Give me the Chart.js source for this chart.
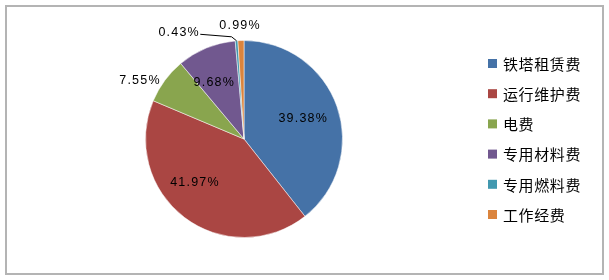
<!DOCTYPE html>
<html>
<head>
<meta charset="utf-8">
<script src="https://cdn.jsdelivr.net/npm/chart.js@4"></script>
<style>
  html, body { margin: 0; padding: 0; background: #fff; }
  #wrap { position: relative; width: 609px; height: 280px; }
  #frame { position: absolute; left: 5px; top: 5px; width: 595px; height: 266px; border: 2px solid #b4b4b4; box-sizing: content-box; }
  #c { position: absolute; left: 0; top: 0; }
</style>
</head>
<body>
<div id="wrap">
  <div id="frame"></div>
  <canvas id="c" width="609" height="280"></canvas>
</div>
<script>
const categories = ['铁塔租赁费', '运行维护费', '电费', '专用材料费', '专用燃料费', '工作经费'];
const values = [39.38, 41.97, 7.55, 9.68, 0.43, 0.99];
const valueLabels = ['39.38%', '41.97%', '7.55%', '9.68%', '0.43%', '0.99%'];

const colors = ['#4572A7', '#AA4643', '#89A54E', '#71588F', '#4198AF', '#DB843D'];
// label placement: radius factor of outer radius along slice mid-angle, plus pixel nudge
const labelPlace = [
  { r: 0.63, dx: 0, dy: 0 },
  { r: 0.663, dx: -10, dy: -8 },
  { r: 1.207, dx: -9, dy: 12 },
  { r: 0.644, dx: -6, dy: 2 },
  { r: 1.0, dx: -58, dy: -8, leader: true },
  { r: 1.157, dx: -1, dy: 0 }
];

const labelPlugin = {
  id: 'sliceLabels',
  afterDatasetsDraw(chart) {
    const ctx = chart.ctx;
    const meta = chart.getDatasetMeta(0);
    ctx.save();
    ctx.font = '12.5px "Liberation Sans"';
    ctx.letterSpacing = '1.2px';
    ctx.fillStyle = '#000';
    ctx.textAlign = 'center';
    ctx.textBaseline = 'middle';
    meta.data.forEach((arc, i) => {
      const p = arc.getProps(['x', 'y', 'startAngle', 'endAngle', 'outerRadius'], true);
      const mid = (p.startAngle + p.endAngle) / 2;
      const pl = labelPlace[i];
      const ax = p.x + Math.cos(mid) * p.outerRadius * pl.r;
      const ay = p.y + Math.sin(mid) * p.outerRadius * pl.r;
      const tx = ax + pl.dx, ty = ay + pl.dy;
      if (pl.leader) {
        const w = ctx.measureText(valueLabels[i]).width;
        ctx.beginPath();
        ctx.strokeStyle = '#000';
        ctx.lineWidth = 1;
        ctx.moveTo(tx + w / 2 + 1, ty + 1.5);
        ctx.lineTo(ax - 5, ay - 4);
        ctx.lineTo(ax, ay);
        ctx.stroke();
      }
      ctx.fillText(valueLabels[i], tx + 0.6, ty);
    });
    ctx.restore();
  }
};

const legendPlugin = {
  id: 'sideLegend',
  afterDraw(chart) {
    const ctx = chart.ctx;
    const ds = chart.data.datasets[0];
    ctx.save();
    ctx.font = '15px "Noto Sans CJK SC"';
    ctx.letterSpacing = '0.6px';
    ctx.textAlign = 'left';
    ctx.textBaseline = 'middle';
    chart.data.labels.forEach((lab, i) => {
      const y = 63.5 + 30.2 * i;
      ctx.fillStyle = ds.backgroundColor[i];
      ctx.fillRect(488, y - 4.5, 9, 9);
      ctx.fillStyle = '#000';
      ctx.fillText(lab, 503, y + 0.5);
    });
    ctx.restore();
  }
};

new Chart(document.getElementById('c'), {
  type: 'pie',
  data: {
    labels: categories,
    datasets: [{
      data: values,
      backgroundColor: colors,
      borderColor: 'rgba(255,255,255,0.5)',
      borderWidth: 1
    }]
  },
  options: {
    responsive: false,
    animation: false,
    rotation: 0,
    layout: { padding: { left: 145, right: 266, top: 40, bottom: 42 } },
    plugins: {
      legend: { display: false },
      tooltip: { enabled: false }
    }
  },
  plugins: [labelPlugin, legendPlugin]
});
</script>
</body>
</html>
